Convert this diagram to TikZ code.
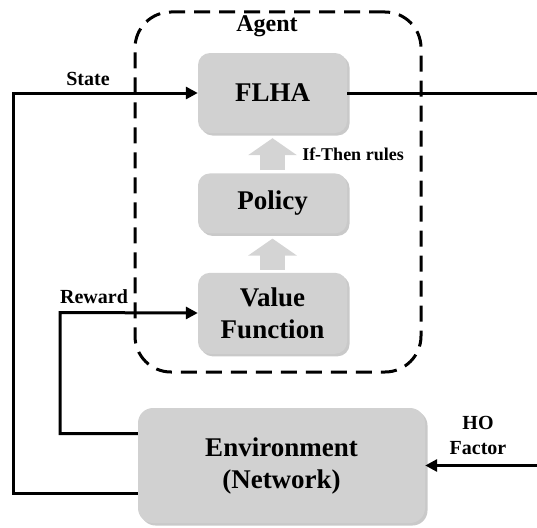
\documentclass[tikz,border=0pt]{standalone}
\usepackage{fontspec}
\setmainfont{Liberation Serif}
\newfontfamily\timesbf{Liberation Serif Bold}
\usetikzlibrary{positioning,arrows.meta,shadows}

\begin{document}
\begin{tikzpicture}[x=1pt, y=-1pt, node distance={40pt},
            main/.style = {fill=gray!36, rounded corners=12pt, minimum width=149pt, inner sep=0pt, align=center, font=\timesbf\fontsize{27}{32}\selectfont, drop shadow={shadow xshift=2.5pt, shadow yshift=-2.5pt, fill=gray!60, opacity=.7}},
            lbl/.style = {font=\timesbf\fontsize{20}{25}\selectfont, align=center, inner sep=0pt},
            line/.style = {line width=3pt},
            bigarrow/.style = {line width=25pt, gray!34, -{Triangle[length=17pt,width=48pt]}, shorten >=5pt, shorten <=3pt}]
            \useasboundingbox (0,0) rectangle (537,527);
            \node[draw, line width=3pt, dash pattern=on 16pt off 9pt, rounded corners=36pt, minimum width=286pt, minimum height=360pt] (5) at (278,192) {};
            \node[main, minimum height=80pt] (1) at (272.5,93) {FLHA};
            \node[main, minimum height=60pt] (2) [below=40pt of 1] {Policy};
            \node[main, minimum height=81pt] (3) [below=39pt of 2] {Value\\Function};
            \node[main, minimum width=287pt, minimum height=115pt, rounded corners=15pt] (4) at (281.5,465.5) {Environment\\(Network)};
            \node[lbl, font=\timesbf\fontsize{24}{28}\selectfont, anchor=base] (6) at (267,31) {Agent};
            \node[lbl, anchor=base] (7) at (88,85) {State};
            \node[lbl, anchor=base] (8) at (94,303) {Reward};
            \node[lbl, font=\timesbf\fontsize{18}{22}\selectfont, anchor=base] (9) at (353,160) {If-Then rules};
            \node[lbl] (10) at (478,435) {HO\\Factor};
            \coordinate (11) at (13,93);
            \coordinate (12) at (60,312.5);
            \coordinate (13) at (537,93);
            \coordinate (14) at (537,465.5);
            \draw[bigarrow] (2) -- (1);
            \draw[bigarrow] (3) -- (2);
            \draw[line, -{Triangle[length=12pt,width=12pt]}] ([yshift=-28pt]4.west) -| (11) -- (1);
            \draw[line, -{Triangle[length=12pt,width=12pt]}] ([yshift=32pt]4.west) -| (12) -- (3);
            \draw[line] (1) -- (13);
            \draw[line, -{Triangle[length=12pt,width=12pt]}] (14) -- (4);
        \end{tikzpicture}
\end{document}
